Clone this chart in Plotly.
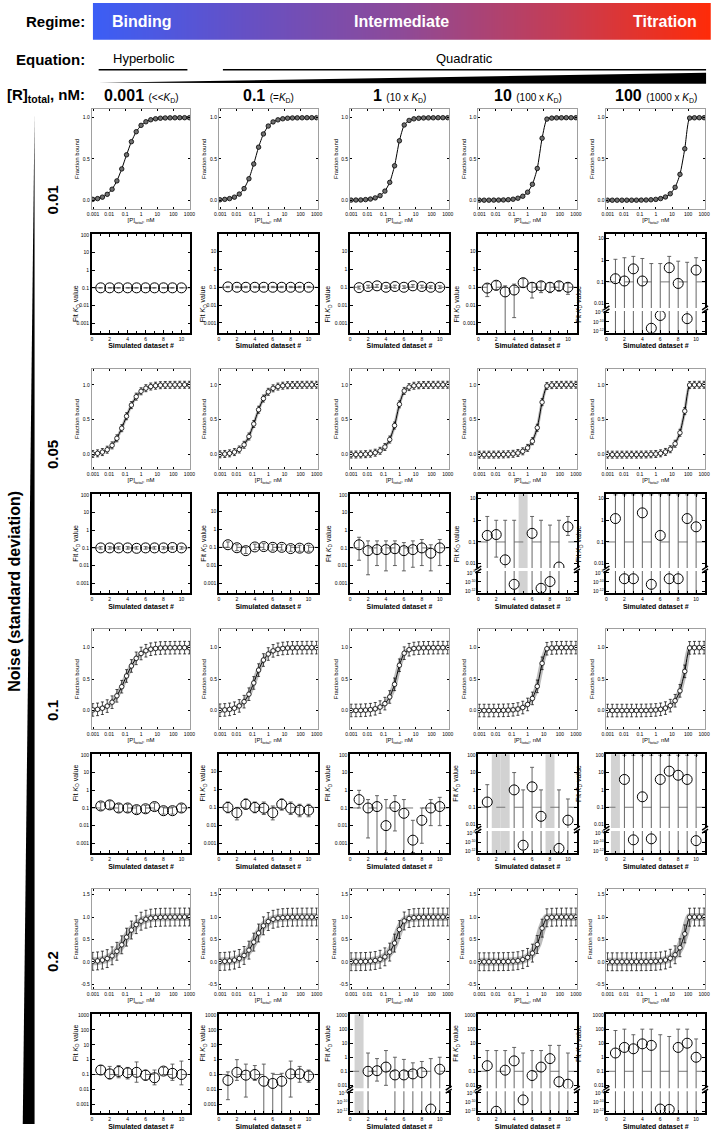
import math
import plotly.graph_objects as go

W, H = 716, 1130
FONT = "Liberation Sans"

# ---------------- data ----------------
regime_names = ["Binding", "Intermediate", "Titration"]
equation_names = ["Hyperbolic", "Quadratic"]
r_total_nM = ["0.001", "0.1", "1", "10", "100"]
r_total_vs_kd = ["(&lt;&lt;<i>K</i><sub>D</sub>)", "(=<i>K</i><sub>D</sub>)",
                 "(10 x <i>K</i><sub>D</sub>)", "(100 x <i>K</i><sub>D</sub>)",
                 "(1000 x <i>K</i><sub>D</sub>)"]
noise_levels = ["0.01", "0.05", "0.1", "0.2"]
noise_sd = [0.01, 0.05, 0.1, 0.2]
true_kd = 0.1
dataset_no = [1, 2, 3, 4, 5, 6, 7, 8, 9, 10]

conc_nM = [0.000954, 0.00191, 0.00381, 0.00763, 0.0153, 0.0305, 0.061, 0.122, 0.244, 0.488,
           0.977, 1.95, 3.91, 7.81, 15.6, 31.3, 62.5, 125, 250, 500, 1000]
bound_r0001 = [0.01, 0.019, 0.037, 0.071, 0.133, 0.234, 0.379, 0.55, 0.709, 0.83,
               0.907, 0.951, 0.975, 0.987, 0.994, 0.997, 0.998, 0.999, 1.0, 1.0, 1.0]
bound_r01 = [0.005, 0.01, 0.019, 0.037, 0.074, 0.141, 0.26, 0.439, 0.643, 0.803,
             0.899, 0.949, 0.974, 0.987, 0.994, 0.997, 0.998, 0.999, 1.0, 1.0, 1.0]
bound_r1 = [0.001, 0.002, 0.003, 0.007, 0.014, 0.028, 0.055, 0.11, 0.216, 0.417,
            0.72, 0.912, 0.967, 0.986, 0.993, 0.997, 0.998, 0.999, 1.0, 1.0, 1.0]
bound_r10 = [0.0001, 0.0002, 0.0004, 0.0008, 0.0015, 0.003, 0.006, 0.012, 0.024, 0.048,
             0.097, 0.193, 0.385, 0.751, 0.983, 0.995, 0.998, 0.999, 1.0, 1.0, 1.0]
bound_r100 = [0.0, 0.0, 0.0, 0.0001, 0.0002, 0.0003, 0.0006, 0.0012, 0.0024, 0.0049,
              0.0098, 0.0195, 0.039, 0.078, 0.156, 0.313, 0.623, 0.996, 0.999, 1.0, 1.0]
bound_by_col = [bound_r0001, bound_r01, bound_r1, bound_r10, bound_r100]

# fit Kd per dataset, one list per [R]total column; None = fit failed
kd_n001 = [[0.1, 0.1, 0.1, 0.1, 0.1, 0.1, 0.1, 0.1, 0.1, 0.1],
           [0.105, 0.1, 0.1, 0.1, 0.1, 0.1, 0.1, 0.1, 0.1, 0.1],
           [0.095, 0.11, 0.12, 0.1, 0.11, 0.1, 0.12, 0.11, 0.1, 0.1],
           [0.09, 0.13, 0.055, 0.07, 0.18, 0.1, 0.12, 0.1, 0.12, 0.1],
           [0.14, 0.11, 0.4, 0.11, 4e-12, 2.5e-9, 0.45, 0.085, 5e-10, 0.35]]
lo_n001 = [[0.097] * 10, [0.095] * 10,
           [0.08, 0.09, 0.1, 0.085, 0.09, 0.085, 0.1, 0.09, 0.085, 0.085],
           [0.03, 0.07, 1e-13, 0.002, 0.1, 0.025, 0.05, 0.05, 0.06, 0.04],
           [1e-13] * 10]
hi_n001 = [[0.103] * 10, [0.112] * 10,
           [0.115, 0.13, 0.14, 0.12, 0.13, 0.12, 0.14, 0.13, 0.12, 0.12],
           [0.15, 0.22, 0.12, 0.15, 0.3, 0.18, 0.2, 0.18, 0.2, 0.17],
           [1.1, 1.3, 1.5, 1.2, 0.7, 0.7, 1.5, 0.9, 0.8, 1.3]]

kd_n005 = [[0.1, 0.1, 0.1, 0.1, 0.095, 0.1, 0.1, 0.1, 0.105, 0.1],
           [0.14, 0.095, 0.065, 0.105, 0.11, 0.1, 0.1, 0.085, 0.09, 0.09],
           [0.15, 0.07, 0.08, 0.08, 0.09, 0.07, 0.08, 0.1, 0.05, 0.1],
           [0.2, 0.22, 0.015, 3e-11, None, 0.25, 4e-12, 1.2e-10, 0.007, 0.5],
           [1.2, 5e-10, 5e-10, 2.2, 3e-11, 0.2, 5e-10, 5e-10, 1.2, 0.5]]
lo_n005 = [[0.085] * 10,
           [0.1, 0.065, 0.045, 0.075, 0.075, 0.07, 0.07, 0.06, 0.06, 0.06],
           [0.02, 0.003, 0.01, 0.005, 0.01, 0.005, 0.008, 0.01, 0.005, 0.01],
           [1e-13, 0.02, 1e-13, 1e-13, None, 1e-13, 1e-13, 1e-13, 1e-13, 0.2],
           [1e-13] * 10]
hi_n005 = [[0.118] * 10,
           [0.2, 0.14, 0.1, 0.15, 0.16, 0.145, 0.145, 0.125, 0.13, 0.13],
           [0.4, 0.25, 0.25, 0.25, 0.25, 0.2, 0.25, 0.3, 0.15, 0.3],
           [1.5, 1.0, 1.0, 1.0, None, 1.5, 1.0, 0.6, 1.0, 1.5],
           [15] * 10]

kd_n01 = [[0.13, 0.15, 0.1, 0.1, 0.08, 0.09, 0.12, 0.07, 0.07, 0.1],
          [0.1, 0.05, 0.15, 0.1, 0.09, 0.05, 0.15, 0.09, 0.07, 0.07],
          [0.3, 0.1, 0.12, 0.01, 0.12, 0.05, 0.0015, 0.02, 0.1, 0.12],
          [0.2, None, None, 1.0, 2e-11, 1.5, 0.03, None, 4e-12, 0.018],
          [None, 4, 3e-10, 0.4, 5e-10, 4, 12, 7, 4, 2e-10]]
lo_n01 = [[0.08, 0.09, 0.06, 0.06, 0.05, 0.055, 0.075, 0.045, 0.045, 0.06],
          [0.05, 0.02, 0.08, 0.05, 0.04, 0.02, 0.07, 0.04, 0.03, 0.03],
          [0.1, 0.002, 1e-13, 0.0003, 0.005, 1e-13, 0.0003, 0.001, 0.01, 0.01],
          [1e-13, None, None, 1e-13, 1e-13, 1e-13, 1e-13, None, 1e-13, 1e-13],
          [None] + [1e-13] * 9]
hi_n01 = [[0.2, 0.25, 0.16, 0.16, 0.13, 0.14, 0.19, 0.11, 0.11, 0.16],
          [0.2, 0.1, 0.3, 0.2, 0.2, 0.12, 0.3, 0.2, 0.15, 0.15],
          [1, 0.3, 0.5, 0.3, 0.5, 0.3, 0.02, 0.1, 0.3, 0.4],
          [2, None, None, 10, 1, 20, 1, None, 1, 0.3],
          [None] + [100] * 9]

kd_n02 = [[0.2, 0.11, 0.16, 0.13, 0.14, 0.09, 0.06, 0.17, 0.12, 0.1],
          [0.04, 0.14, 0.09, 0.1, 0.035, 0.025, 0.035, 0.11, 0.11, 0.08],
          [None, 0.1, 0.11, 0.2, 0.055, 0.055, 0.065, 0.08, 3e-12, 0.14],
          [0.25, 1e-12, 0.12, 0.55, 3e-10, 0.05, 0.2, 0.8, 0.018, 0.012],
          [2, 5, 4, 9, 7, 3e-12, 2.5e-12, 5, 10, 1]]
lo_n02 = [[0.1, 0.05, 0.06, 0.05, 0.03, 0.04, 0.02, 0.1, 0.04, 0.02],
          [0.002, 0.04, 0.003, 0.04, 1e-13, 1e-13, 1e-13, 0.003, 0.03, 0.03],
          [None, 1e-13, 0.02, 0.01, 1e-13, 1e-13, 1e-13, 1e-13, 1e-13, 1e-13],
          [1e-13] * 10,
          [1e-13] * 10]
hi_n02 = [[0.4, 0.35, 0.4, 0.3, 0.7, 0.2, 0.2, 0.3, 0.5, 0.8],
          [0.15, 1.0, 0.5, 0.4, 0.5, 0.12, 0.12, 0.8, 0.35, 0.2],
          [None, 2, 0.8, 3, 1, 0.7, 0.4, 0.5, 0.8, 1.0],
          [3, 3, 3, 5, 2, 3, 3, 7, 7, 2],
          [80, 100, 40, 100, 100, 40, 30, 100, 100, 20]]

kd_rows = [kd_n001, kd_n005, kd_n01, kd_n02]
lo_rows = [lo_n001, lo_n005, lo_n01, lo_n02]
hi_rows = [hi_n001, hi_n005, hi_n01, hi_n02]

# ---------------- geometry (pixels) ----------------
col_px = [(88, 188), (217, 317), (350, 450), (480, 580), (610, 710)]
bind_px = [(106, 207), (367, 468), (628, 729), (889, 990)]
kd_px = [(232, 331), (493, 592), (754, 853), (1015, 1114)]
bind_range = [(-0.11, 1.11), (-0.21, 1.23), (-0.3, 1.3), (-0.62, 1.63)]
band_width = [0, 3, 5, 8]
broken = {(0, 4), (1, 3), (1, 4), (2, 3), (2, 4), (3, 2), (3, 3), (3, 4)}
upper_top = [1.2, 1.2, 2.05, 3.05]
LOWER_H = 22

dec_vals = [1e-3, 1e-2, 0.1, 1, 10, 100, 1000]
dec_text = ["0.001", "0.01", "0.1", "1", "10", "100", "1000"]


def px(x, y):
    return x / W, 1 - y / H


fig = go.Figure()
layout = {}
shapes = []
annotations = []
n_ax = [0]


def new_axes(xl, xr, yt, yb, xa, ya):
    n_ax[0] += 1
    s = "" if n_ax[0] == 1 else str(n_ax[0])
    layout["xaxis" + s] = dict(domain=[xl / W, xr / W], anchor="y" + s,
                               showgrid=False, zeroline=False, **xa)
    layout["yaxis" + s] = dict(domain=[1 - yb / H, 1 - yt / H], anchor="x" + s,
                               showgrid=False, zeroline=False, **ya)
    return "x" + s, "y" + s


tick_font = dict(family=FONT, size=5, color="black")
small_title = dict(family=FONT, size=6, color="black")

# ---------------- binding curve panels ----------------
for r in range(4):
    yt, yb = bind_px[r]
    lo_r, hi_r = bind_range[r]
    yticks = [v for v in [-0.5, 0, 0.5, 1.0, 1.5] if lo_r < v < hi_r]
    for c in range(5):
        xl, xr = col_px[c]
        xa = dict(type="log", range=[-3.08, 3.06], tickvals=dec_vals, ticktext=dec_text,
                  tickfont=tick_font, ticks="inside", ticklen=2, tickcolor="black",
                  showline=True, linecolor="#a0a0a0", linewidth=1, mirror="ticks",
                  title=dict(text="[P]<sub>total</sub>, nM", font=small_title, standoff=1))
        ya = dict(range=[lo_r, hi_r], tickvals=yticks, ticktext=["%.1f" % v for v in yticks],
                  tickfont=tick_font, ticks="inside", ticklen=2, tickcolor="black",
                  showline=True, linecolor="#a0a0a0", linewidth=1, mirror="ticks",
                  title=dict(text="Fraction bound", font=small_title, standoff=2))
        xn, yn = new_axes(xl, xr, yt, yb, xa, ya)
        yv = bound_by_col[c]
        if band_width[r]:
            fig.add_trace(go.Scatter(x=conc_nM, y=yv, mode="lines", xaxis=xn, yaxis=yn,
                                     line=dict(color="#bdbdbd", width=band_width[r],
                                               shape="spline", smoothing=0.6),
                                     hoverinfo="skip", showlegend=False))
        fig.add_trace(go.Scatter(x=conc_nM, y=yv, mode="lines", xaxis=xn, yaxis=yn,
                                 line=dict(color="black", width=1, shape="spline", smoothing=0.6),
                                 showlegend=False))
        fig.add_trace(go.Scatter(
            x=conc_nM, y=yv, mode="markers", xaxis=xn, yaxis=yn, showlegend=False,
            marker=dict(size=4.5, color="#707070" if r == 0 else "white",
                        line=dict(color="black", width=0.8)),
            error_y=dict(type="constant", value=noise_sd[r], thickness=0.7, width=1.5,
                         color="black")))


# ---------------- fitted Kd panels ----------------
def kd_traces(kd, lo, hi, xn, yn):
    ex, ey = [], []
    for i, v, a, b in zip(dataset_no, kd, lo, hi):
        if v is None:
            continue
        ex += [i, i, None, i - 0.22, i + 0.22, None, i - 0.22, i + 0.22, None]
        ey += [a, b, None, b, b, None, a, a, None]
    fig.add_trace(go.Scatter(x=[0, 11], y=[true_kd, true_kd], mode="lines", xaxis=xn, yaxis=yn,
                             line=dict(color="#777777", width=1, dash="dash"),
                             hoverinfo="skip", showlegend=False))
    fig.add_trace(go.Scatter(x=ex, y=ey, mode="lines", xaxis=xn, yaxis=yn,
                             line=dict(color="#555555", width=0.9),
                             hoverinfo="skip", showlegend=False))
    fig.add_trace(go.Scatter(x=dataset_no, y=kd, mode="markers", xaxis=xn, yaxis=yn,
                             marker=dict(symbol="circle-open", size=10, color="black",
                                         line=dict(width=1)),
                             showlegend=False))
    for i, v in zip(dataset_no, kd):
        if v is None:
            shapes.append(dict(type="rect", xref=xn, yref=yn + " domain", x0=i - 0.5,
                               x1=i + 0.5, y0=0, y1=1, fillcolor="#d2d2d2",
                               line=dict(width=0), layer="below"))


frame = dict(showline=True, linecolor="black", linewidth=1.5, ticks="inside",
             ticklen=3, tickcolor="black", tickfont=tick_font)
x_kd = dict(range=[0, 11], tickvals=[0, 2, 4, 6, 8, 10],
            minor=dict(tickvals=[1, 3, 5, 7, 9], ticks="inside", ticklen=2, tickcolor="black"))
x_title = dict(text="<b>Simulated dataset #</b>", font=dict(family=FONT, size=7, color="black"),
               standoff=3)

for r in range(4):
    yt, yb = kd_px[r]
    for c in range(5):
        xl, xr = col_px[c]
        kd, lo, hi = kd_rows[r][c], lo_rows[r][c], hi_rows[r][c]
        if (r, c) in broken:
            ub = yb - LOWER_H - 3
            top = upper_top[r]
            uv = [(v, t) for v, t in zip(dec_vals, dec_text) if -2.2 <= math.log10(v) <= top]
            xa = dict(side="top", showticklabels=False, mirror=False, **x_kd, **frame)
            ya = dict(type="log", range=[-2.2, top], tickvals=[v for v, _ in uv],
                      ticktext=[t for _, t in uv], mirror="ticks", **frame)
            xn, yn = new_axes(xl, xr, yt, ub, xa, ya)
            kd_traces(kd, lo, hi, xn, yn)
            xa = dict(mirror=False, title=x_title, **x_kd, **frame)
            ya = dict(type="log", range=[-12.4, -7.6], tickvals=[1e-8, 1e-10, 1e-12],
                      ticktext=["10<sup>-8</sup>", "10<sup>-10</sup>", "10<sup>-12</sup>"],
                      mirror="ticks", **frame)
            xn, yn = new_axes(xl, xr, yb - LOWER_H, yb, xa, ya)
            kd_traces(kd, lo, hi, xn, yn)
            for xe in (xl, xr):
                for yg in (ub, yb - LOWER_H):
                    x0, y0 = px(xe - 3, yg + 2)
                    x1, y1 = px(xe + 3, yg - 2)
                    shapes.append(dict(type="line", xref="paper", yref="paper", x0=x0, y0=y0,
                                       x1=x1, y1=y1, line=dict(color="black", width=1.5)))
        else:
            if r == 3:
                top = 3.05
            elif c == 0 or (c == 2 and r in (1, 2)):
                top = 2.04
            else:
                top = 1.97
            bottom = -3.6 if r == 3 else -3.55
            xa = dict(mirror="ticks", title=x_title, **x_kd, **frame)
            ya = dict(type="log", range=[bottom, top], tickvals=dec_vals, ticktext=dec_text,
                      mirror="ticks", **frame)
            xn, yn = new_axes(xl, xr, yt, yb, xa, ya)
            kd_traces(kd, lo, hi, xn, yn)
        ax, ay = px(xl - 22, (yt + yb) / 2)
        annotations.append(dict(x=ax, y=ay, xref="paper", yref="paper", showarrow=False,
                                text="Fit <i>K</i><sub>D</sub> value", textangle=-90,
                                font=dict(family=FONT, size=7, color="black")))

# ---------------- header ----------------
xn, yn = new_axes(89, 716, 0, 37, dict(range=[0, 1], visible=False),
                  dict(range=[0, 1], visible=False))
fig.add_trace(go.Heatmap(z=[[0, 1], [0, 1]], x=[0, 1], y=[0, 1], xaxis=xn, yaxis=yn,
                         zsmooth="best", showscale=False, hoverinfo="skip",
                         colorscale=[[0, "#3b5ef6"], [0.25, "#6650c4"], [0.5, "#8e4a98"],
                                     [0.75, "#c43d56"], [1, "#ff2b08"]]))

HFONT = "Liberation Sans Narrow, Liberation Sans"


def label(x, y, text, size, anchor="center", color="black", angle=0):
    ax, ay = px(x, y)
    annotations.append(dict(x=ax, y=ay, xref="paper", yref="paper", text=text,
                            showarrow=False, xanchor=anchor, yanchor="middle",
                            textangle=angle, font=dict(family=HFONT, size=size, color=color)))


label(83, 19, "<b>Regime:</b>", 15, "right")
label(106, 19, "<b>%s</b>" % regime_names[0], 16, "left", "white")
label(402, 19, "<b>%s</b>" % regime_names[1], 16, "center", "white")
label(704, 19, "<b>%s</b>" % regime_names[2], 16, "right", "white")
label(83, 57, "<b>Equation:</b>", 15, "right")
label(141, 56, equation_names[0], 13)
label(466, 56, equation_names[1], 13)
label(83, 93, "<b>[R]<sub>total</sub>, nM:</b>", 15, "right")
for c in range(5):
    cx = (col_px[c][0] + col_px[c][1]) / 2
    label(cx, 93, "<b>%s</b> <span style='font-size:10px'>%s</span>"
          % (r_total_nM[c], r_total_vs_kd[c]), 16)

for x0, x1 in ((95, 185), (221, 711)):
    a, b = px(x0, 67)
    d, e = px(x1, 67)
    shapes.append(dict(type="line", xref="paper", yref="paper", x0=a, y0=b, x1=d, y1=e,
                       line=dict(color="black", width=1.5)))


def tri(points):
    p = [px(x, y) for x, y in points]
    return "M %f,%f L %f,%f L %f,%f Z" % (p[0] + p[1] + p[2])


shapes.append(dict(type="path", xref="paper", yref="paper", fillcolor="black",
                   line=dict(width=0), path=tri([(95, 80), (711, 70), (711, 81)])))
shapes.append(dict(type="path", xref="paper", yref="paper", fillcolor="black",
                   line=dict(width=0), path=tri([(30, 110), (30, 1125), (18, 1125)])))

label(10, 590, "<b>Noise (standard deviation)</b>", 16, angle=-90)
for r in range(4):
    yt, yb = bind_px[r]
    lo_r, hi_r = bind_range[r]
    y0 = yb - (0 - lo_r) / (hi_r - lo_r) * (yb - yt)
    label(48, y0, "<b>%s</b>" % noise_levels[r], 15, angle=-90)

fig.update_layout(width=W, height=H, margin=dict(l=0, r=0, t=0, b=0),
                  paper_bgcolor="white", plot_bgcolor="white",
                  font=dict(family=FONT, color="black"),
                  shapes=shapes, annotations=annotations, showlegend=False, **layout)
fig.write_html("out.html", config={"displayModeBar": False},
               post_script="document.body.style.margin='0';document.body.style.overflow='hidden';")
